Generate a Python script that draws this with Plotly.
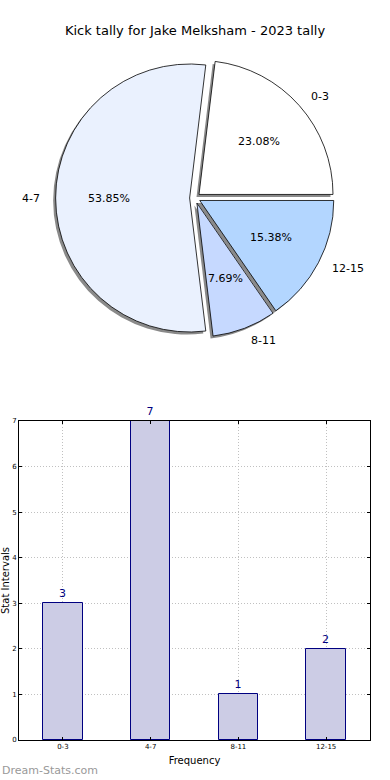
import math
import plotly.graph_objects as go

# ---- data ----
categories = ["0-3", "4-7", "8-11", "12-15"]
counts = [3, 7, 1, 2]
pie_colors = ["#ffffff", "#eaf1fe", "#c6d9ff", "#b3d6ff"]
title_text = "Kick tally for Jake Melksham - 2023 tally"
y_ticks = [0, 1, 2, 3, 4, 5, 6, 7]

W, H = 390, 780
FONT = "DejaVu Sans"

total = sum(counts)
# first slice starts at 3 o'clock, going counter-clockwise (plotly ccw semantics)
rotation = 90 - counts[0] / total * 360

# pie geometry (pixels)
pcx, pcy, pr = 195, 198, 134
pull = 0.04
half = pr * (1 + pull)
dom_x = [(pcx - half) / W, (pcx + half) / W]
dom_y = [1 - (pcy + half) / H, 1 - (pcy - half) / H]
sh = 2.5  # shadow offset in px
sdom_x = [dom_x[0] - sh / W, dom_x[1] - sh / W]
sdom_y = [dom_y[0] - sh / H, dom_y[1] - sh / H]

fig = go.Figure()

# shadow pie
fig.add_trace(go.Pie(
    labels=categories, values=counts, sort=False, direction="counterclockwise",
    rotation=rotation, pull=[pull] * len(counts), domain=dict(x=sdom_x, y=sdom_y),
    marker=dict(colors=["#8a8a8a"] * len(counts), line=dict(width=0)),
    textinfo="none", hoverinfo="skip", showlegend=False,
))
# main pie
fig.add_trace(go.Pie(
    labels=categories, values=counts, sort=False, direction="counterclockwise",
    rotation=rotation, pull=[pull] * len(counts), domain=dict(x=dom_x, y=dom_y),
    marker=dict(colors=pie_colors, line=dict(color="#000000", width=0.8)),
    textinfo="none", showlegend=False,
))

annotations = []
cum = 0
for cat, v in zip(categories, counts):
    mid = (cum + v / 2) / total * 2 * math.pi
    cum += v
    c, s = math.cos(mid), math.sin(mid)
    # category label at 1.1 r from exploded centre
    lx = pcx + (pull + 1.1) * pr * c
    ly = pcy - (pull + 1.1) * pr * s
    annotations.append(dict(
        x=lx / W, y=1 - ly / H, xref="paper", yref="paper", text=cat,
        showarrow=False, xanchor="left" if c > 0 else "right", yanchor="middle",
        font=dict(family=FONT, size=11, color="#000000")))
    px = pcx + (pull + 0.6) * pr * c
    py = pcy - (pull + 0.6) * pr * s
    annotations.append(dict(
        x=px / W, y=1 - py / H, xref="paper", yref="paper",
        text=f"{v / total * 100:.2f}%", showarrow=False,
        xanchor="center", yanchor="middle",
        font=dict(family=FONT, size=11, color="#000000")))

# bar chart
fig.add_trace(go.Bar(
    x=categories, y=counts, width=0.45,
    marker=dict(color="#ccccE5", line=dict(color="#000080", width=1)),
    text=[str(v) for v in counts], textposition="outside", cliponaxis=False,
    textfont=dict(family=FONT, size=11, color="#000080"), constraintext="none",
    showlegend=False, xaxis="x", yaxis="y",
))

annotations.append(dict(
    x=5 / W, y=1 - 581 / H, xref="paper", yref="paper", text="Stat Intervals",
    textangle=-90, showarrow=False, xanchor="center", yanchor="middle",
    font=dict(family=FONT, size=10, color="#000000")))
annotations.append(dict(
    x=0, y=1 - 770 / H, xref="paper", yref="paper", text="Dream-Stats.com",
    showarrow=False, xanchor="left", yanchor="middle",
    font=dict(family=FONT, size=11, color="#999999")))

fig.update_layout(
    width=W, height=H, margin=dict(l=0, r=0, t=0, b=0, autoexpand=False),
    paper_bgcolor="white", plot_bgcolor="white",
    title=dict(text=title_text, x=0.5, xanchor="center", y=1 - 30 / H, yanchor="middle",
               font=dict(family=FONT, size=13, color="#000000")),
    font=dict(family=FONT),
    annotations=annotations,
    bargap=0,
    xaxis=dict(domain=[19 / W, 370 / W], range=[-0.5, 3.5], type="category",
               automargin=False,
               showline=True, linecolor="black", linewidth=1, mirror="ticks",
               ticks="inside", ticklen=3, tickcolor="black",
               showgrid=True, gridcolor="#c0c0c0", griddash="1px,2px", gridwidth=1,
               tickfont=dict(family=FONT, size=7, color="#000000"),
               title=dict(text="Frequency", font=dict(family=FONT, size=10, color="#000000"),
                          standoff=6),
               zeroline=False, fixedrange=True),
    yaxis=dict(domain=[1 - 740 / H, 1 - 421 / H], range=[0, 7], tickvals=y_ticks,
               automargin=False,
               showline=True, linecolor="black", linewidth=1, mirror="ticks",
               ticks="inside", ticklen=3, tickcolor="black",
               showgrid=True, gridcolor="#c0c0c0", griddash="1px,2px", gridwidth=1,
               tickfont=dict(family=FONT, size=7, color="#000000"),
               zeroline=False, fixedrange=True),
)

fig.write_html(
    "out.html",
    config={"displayModeBar": False},
    post_script="document.body.style.margin='0';document.body.style.overflow='hidden';",
)
